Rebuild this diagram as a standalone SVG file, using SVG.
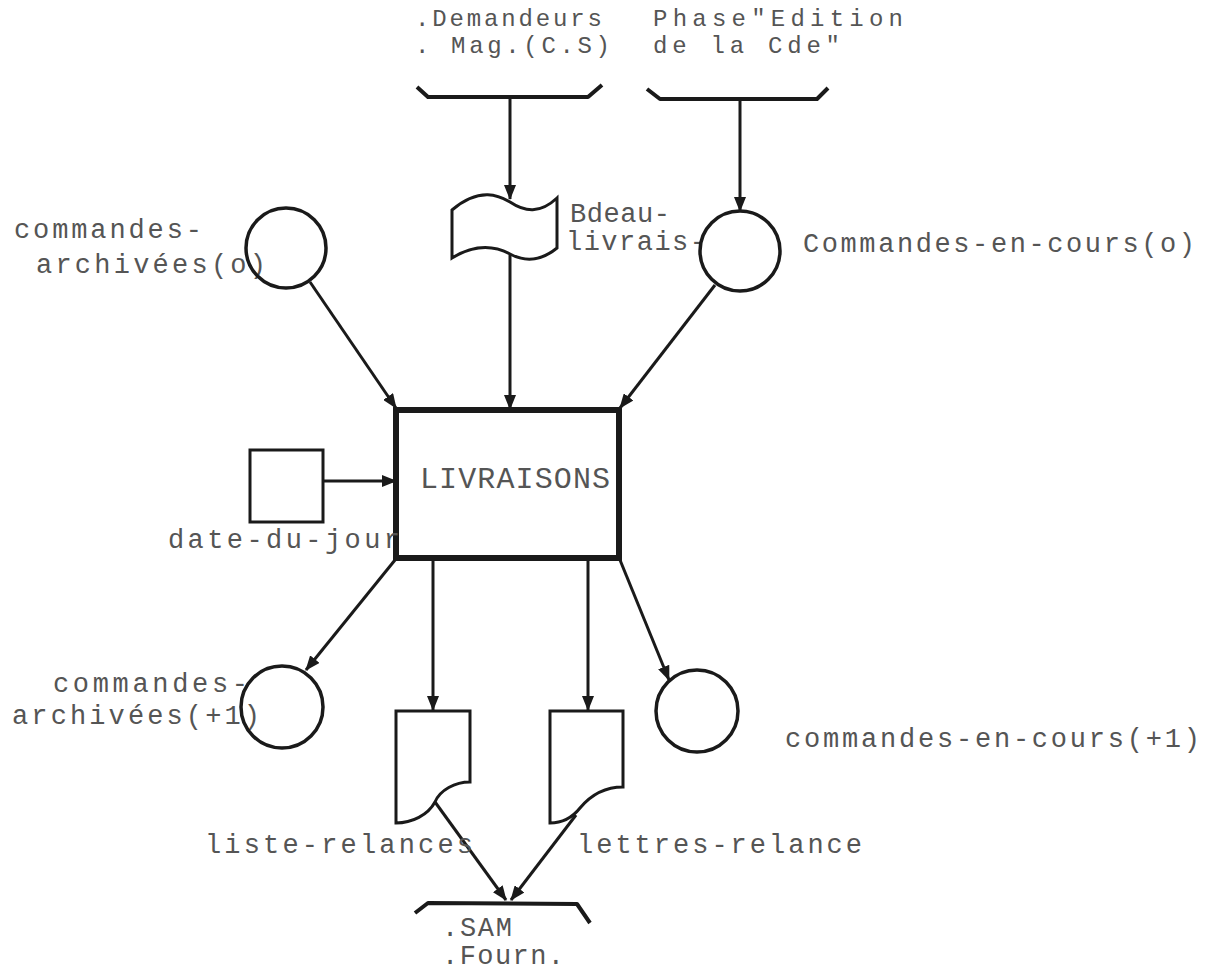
<svg xmlns="http://www.w3.org/2000/svg" width="1210" height="972" viewBox="0 0 1210 972">
<defs>
<marker id="ah" markerUnits="userSpaceOnUse" markerWidth="16" markerHeight="12" refX="14" refY="6" orient="auto">
<path d="M0,0 L15,6 L0,12 Z" fill="#1a1a1a"/>
</marker>
<style>
.t{font-family:"Liberation Mono","DejaVu Sans Mono",monospace;font-size:27px;fill:#555;}
.sm{font-size:24px;}
.big{font-size:30px;}
.ln{fill:none;stroke:#1a1a1a;stroke-width:3;}
.c{stroke:#1a1a1a;stroke-width:3.5;fill:none;}
.sh{stroke:#1a1a1a;stroke-width:3;fill:#fff;}
.br{fill:none;stroke:#1a1a1a;stroke-width:4;stroke-linejoin:round;}
</style>
</defs>
<rect width="1210" height="972" fill="#fff"/>

<g id="connectors">
<line class="ln" x1="510" y1="97" x2="510" y2="199" marker-end="url(#ah)"/>
<line class="ln" x1="740" y1="99" x2="740" y2="211" marker-end="url(#ah)"/>
<line class="ln" x1="510" y1="255" x2="510" y2="409" marker-end="url(#ah)"/>
<line class="ln" x1="310" y1="282" x2="396" y2="408" marker-end="url(#ah)"/>
<line class="ln" x1="715" y1="285" x2="620" y2="408" marker-end="url(#ah)"/>
<line class="ln" x1="323" y1="481" x2="396" y2="481" marker-end="url(#ah)"/>
<line class="ln" x1="395" y1="560" x2="306" y2="670" marker-end="url(#ah)"/>
<line class="ln" x1="433" y1="560" x2="433" y2="710" marker-end="url(#ah)"/>
<line class="ln" x1="588" y1="560" x2="588" y2="710" marker-end="url(#ah)"/>
<line class="ln" x1="620" y1="560" x2="669" y2="680" marker-end="url(#ah)"/>
<line class="ln" x1="435" y1="802" x2="506" y2="900" marker-end="url(#ah)"/>
<line class="ln" x1="576" y1="815" x2="511" y2="900" marker-end="url(#ah)"/>
</g>

<g id="src-demandeurs">
<path class="br" d="M417,87 L428,97 L588,97 L602,85"/>
<text class="t sm" x="415" y="26" textLength="187">.Demandeurs</text>
<text class="t sm" x="415" y="53" textLength="195">. Mag.(C.S)</text>
</g>

<g id="src-phase">
<path class="br" d="M647,89 L660,99 L817,99 L828,88"/>
<text class="t sm" x="653" y="26" textLength="250">Phase"Edition</text>
<text class="t sm" x="653" y="53" textLength="187">de la Cde"</text>
</g>

<g id="cmd-archivees-o">
<text class="t" x="14" y="238" textLength="188">commandes-</text>
<text class="t" x="36" y="273" textLength="230">archivées(o)</text>
<circle class="c" cx="286" cy="248" r="40"/>
</g>

<g id="bdeau-livrais">
<text class="t" x="570" y="222" textLength="100">Bdeau-</text>
<text class="t" x="566" y="250" textLength="140">livrais-</text>
<path class="sh" d="M452,210 C480,186 500,196 510,202 C525,212 540,214 557,198 L557,248 C540,262 525,262 510,254 C495,246 475,244 452,258 Z"/>
</g>

<g id="cmd-en-cours-o">
<circle class="c" cx="740" cy="251" r="40"/>
<text class="t" x="803" y="252" textLength="392">Commandes-en-cours(o)</text>
</g>

<g id="livraisons">
<rect x="396" y="410" width="223" height="148" fill="#fff" stroke="#1a1a1a" stroke-width="6"/>
<text class="t big" x="420" y="488" textLength="190">LIVRAISONS</text>
</g>

<g id="date-du-jour">
<rect class="sh" x="250" y="450" width="73" height="72"/>
<text class="t" x="168" y="548" textLength="232">date-du-jour</text>
</g>

<g id="cmd-archivees-1">
<text class="t" x="53" y="692" textLength="195">commandes-</text>
<text class="t" x="12" y="724" textLength="248">archivées(+1)</text>
<circle class="c" cx="282" cy="707" r="41"/>
</g>

<g id="cmd-en-cours-1">
<circle class="c" cx="697" cy="711" r="41"/>
<text class="t" x="785" y="747" textLength="415">commandes-en-cours(+1)</text>
</g>

<g id="liste-relances">
<path class="sh" d="M396,711 L470,711 L470,782 C455,782 440,790 435,802 C428,815 412,823 396,823 Z"/>
<text class="t" x="205" y="853" textLength="268">liste-relances</text>
</g>

<g id="lettres-relance">
<path class="sh" d="M550,711 L623,711 L623,787 C605,787 590,796 580,808 C572,818 562,823 550,823 Z"/>
<text class="t" x="577" y="853" textLength="285">lettres-relance</text>
</g>

<g id="sam-fourn">
<path class="br" d="M415,913 L428,903 L577,904 L590,923"/>
<text class="t" x="442" y="936" textLength="70">.SAM</text>
<text class="t" x="442" y="964" textLength="122">.Fourn.</text>
</g>
</svg>
